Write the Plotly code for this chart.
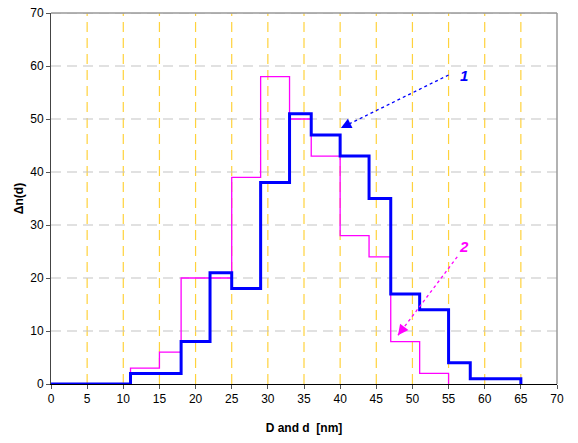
import plotly.graph_objects as go

# Curve 1 (blue) bin edges and values
x1 = [0, 11, 18, 22, 25, 29, 33, 36, 40, 44, 47, 51, 55, 58, 65]
y1 = [0, 2, 8, 21, 18, 38, 51, 47, 43, 35, 17, 14, 4, 1, 0]
# Curve 2 (magenta)
x2 = [0, 11, 15, 18, 25, 29, 33, 36, 40, 44, 47, 51, 55]
y2 = [0, 3, 6, 20, 39, 58, 50, 43, 28, 24, 8, 2, 0]

x_ticks = list(range(0, 75, 5))
y_ticks = list(range(0, 80, 10))

# annotation arrows: (tail x, tail y, head x, head y, label x, label y)
arr1 = [55.0, 58.3, 40.1, 48.3, 57.1, 58.3]
arr2 = [56.2, 24.0, 48.0, 9.2, 57.1, 25.9]

fig = go.Figure()

# vertical yellow dashed gridlines
for xv in x_ticks[1:-1]:
    fig.add_shape(type="line", xref="x", yref="y", x0=xv, x1=xv, y0=0, y1=70,
                  line=dict(color="#FFD23C", width=1.2, dash="10px,6px"), layer="below")
# horizontal gray dashed gridlines
for yv in y_ticks[1:]:
    fig.add_shape(type="line", xref="x", yref="y", x0=0, x1=70, y0=yv, y1=yv,
                  line=dict(color="#C4C4C4", width=1.2, dash="10px,6px"), layer="below")

fig.add_trace(go.Scatter(x=x2, y=y2, mode="lines", line=dict(shape="hv", color="#FF00FF", width=1.3),
                         showlegend=False, hoverinfo="skip"))
fig.add_trace(go.Scatter(x=x1, y=y1, mode="lines", line=dict(shape="hv", color="#0000FF", width=3),
                         showlegend=False, hoverinfo="skip"))

for arr, col, lab in [(arr1, "#0000FF", "1"), (arr2, "#FF00FF", "2")]:
    tx, ty, hx, hy, lx, ly = arr
    fig.add_trace(go.Scatter(x=[tx, hx], y=[ty, hy], mode="lines",
                             line=dict(color=col, width=1.3, dash="dot"),
                             showlegend=False, hoverinfo="skip"))
    # arrowhead only: very short shaft near the head
    fig.add_annotation(x=hx, y=hy, ax=hx + (tx - hx) * 0.08, ay=hy + (ty - hy) * 0.08,
                       xref="x", yref="y", axref="x", ayref="y", text="",
                       showarrow=True, arrowhead=2, arrowsize=1.6, arrowwidth=1.3, arrowcolor=col)
    fig.add_annotation(x=lx, y=ly, xref="x", yref="y", text="<b><i>" + lab + "</i></b>",
                       showarrow=False, font=dict(color=col, size=15, family="Liberation Sans"))

fig.update_layout(
    width=578, height=443,
    margin=dict(l=51, r=21, t=13, b=59),
    paper_bgcolor="white", plot_bgcolor="white",
    font=dict(family="Liberation Sans", size=12, color="black"),
    xaxis=dict(range=[0, 70], tickvals=x_ticks, showgrid=False, zeroline=False,
               showline=True, linecolor="black", linewidth=1, mirror=False,
               ticks="outside", ticklen=4, tickcolor="#555555", automargin=False,
               title=dict(text="<b>D and d  [nm]</b>", font=dict(size=12), standoff=18)),
    yaxis=dict(range=[0, 70], tickvals=y_ticks, showgrid=False, zeroline=False,
               showline=True, linecolor="#444444", linewidth=1,
               ticks="outside", ticklen=4, tickcolor="#555555", automargin=False,
               title=dict(text="<b>Δn(d)</b>", font=dict(size=12), standoff=4)),
)
# top and right borders (gray)
fig.add_shape(type="line", xref="paper", yref="paper", x0=0, x1=1, y0=1, y1=1,
              line=dict(color="#999999", width=1.5))
fig.add_shape(type="line", xref="paper", yref="paper", x0=1, x1=1, y0=0, y1=1,
              line=dict(color="#999999", width=1.5))

fig.write_html("out.html")
